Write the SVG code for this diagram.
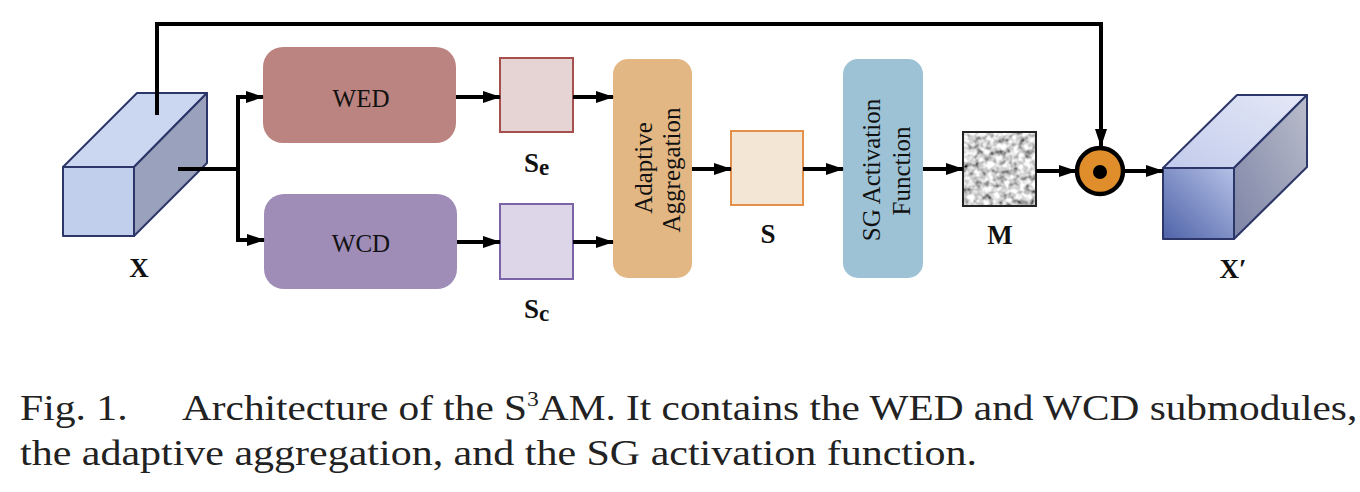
<svg xmlns="http://www.w3.org/2000/svg" width="1360" height="492" viewBox="0 0 1360 492">
<defs>
<marker id="ah" markerUnits="userSpaceOnUse" markerWidth="18" markerHeight="14" viewBox="0 0 18 14" refX="17" refY="7" orient="auto">
<path d="M0,1 L18,7 L0,13 Z" fill="#000"/>
</marker>
<linearGradient id="xpFront" x1="0" y1="1" x2="1" y2="0">
<stop offset="0" stop-color="#4f63a8"/>
<stop offset="1" stop-color="#b4c0e6"/>
</linearGradient>
<linearGradient id="xpTop" x1="0" y1="1" x2="1" y2="0">
<stop offset="0" stop-color="#c2cbec"/>
<stop offset="1" stop-color="#e4e8f6"/>
</linearGradient>
<linearGradient id="xpSide" x1="0" y1="1" x2="1" y2="0">
<stop offset="0" stop-color="#7d84a6"/>
<stop offset="1" stop-color="#b9bdcb"/>
</linearGradient>
<filter id="noise" x="0" y="0" width="100%" height="100%" filterUnits="objectBoundingBox">
<feTurbulence type="fractalNoise" baseFrequency="0.16" numOctaves="2" seed="11" result="t"/>
<feColorMatrix in="t" type="matrix" values="1.8 0 0 0 -0.25  1.8 0 0 0 -0.25  1.8 0 0 0 -0.25  0 0 0 0 1"/>
</filter>
</defs>
<style>
.conn{fill:none;stroke:#000;stroke-width:4}
.arr{fill:none;stroke:#000;stroke-width:4;marker-end:url(#ah)}
.lbl{font-family:"Liberation Serif","Times New Roman",serif;font-size:25px;fill:#111}
.blbl{font-family:"Liberation Serif","Times New Roman",serif;font-size:27px;font-weight:bold;fill:#111}
.cap{font-family:"Liberation Serif","Times New Roman",serif;font-size:35px;fill:#222}
.sup{font-size:20px}
.cube{stroke:#2d3668;stroke-width:2;stroke-linejoin:round}
</style>
<rect width="1360" height="492" fill="#fff"/>

<g id="node-X">
<polygon class="cube" points="63,167 137,93 207,93 134,167" fill="#cbd6f0"/>
<polygon class="cube" points="134,167 207,93 207,163 134,236" fill="#99a1bc"/>
<rect class="cube" x="63" y="167" width="71" height="69" fill="#c1cfec"/>
<text class="blbl" x="139" y="277" text-anchor="middle">X</text>
</g>

<g id="node-WED">
<rect x="263" y="47" width="193" height="96" rx="20" fill="#bb8480"/>
<text class="lbl" x="361" y="107" text-anchor="middle">WED</text>
</g>
<g id="node-WCD">
<rect x="264" y="194" width="193" height="95" rx="20" fill="#9f8db8"/>
<text class="lbl" x="361" y="252" text-anchor="middle">WCD</text>
</g>

<g id="node-Se">
<rect x="500" y="58" width="73" height="74" fill="#e6d3d3" stroke="#a5504c" stroke-width="2"/>
<text class="blbl" x="524" y="172">S<tspan style="font-size:23px" dy="3">e</tspan></text>
</g>
<g id="node-Sc">
<rect x="500" y="204" width="73" height="75" fill="#ddd6e8" stroke="#7b63a8" stroke-width="2"/>
<text class="blbl" x="524" y="318">S<tspan style="font-size:23px" dy="3">c</tspan></text>
</g>

<g id="node-AA">
<rect x="613" y="59" width="79" height="219" rx="15" fill="#e3b784"/>
<text class="lbl" transform="translate(652,168) rotate(-90)" text-anchor="middle">Adaptive</text>
<text class="lbl" transform="translate(680,170) rotate(-90)" text-anchor="middle">Aggregation</text>
</g>

<g id="node-S">
<rect x="731" y="131" width="72" height="74" fill="#f3e6d4" stroke="#e3904a" stroke-width="2"/>
<text class="blbl" x="768" y="243" text-anchor="middle">S</text>
</g>

<g id="node-SG">
<rect x="843" y="59" width="80" height="219" rx="15" fill="#9dc2d5"/>
<text class="lbl" transform="translate(880,170) rotate(-90)" text-anchor="middle">SG Activation</text>
<text class="lbl" transform="translate(910,171) rotate(-90)" text-anchor="middle">Function</text>
</g>

<g id="node-M">
<rect x="963" y="132" width="73" height="74" fill="#ccc" filter="url(#noise)"/>
<rect x="963" y="132" width="73" height="74" fill="none" stroke="#222" stroke-width="2"/>
<text class="blbl" x="1000" y="244" text-anchor="middle">M</text>
</g>

<g id="node-mul">
<circle cx="1100" cy="171" r="23" fill="#e08e2b" stroke="#000" stroke-width="4.5"/>
<circle cx="1100" cy="172" r="7" fill="#000"/>
</g>

<g id="node-Xp">
<polygon class="cube" points="1163,168 1237,95 1307,95 1234,168" fill="url(#xpTop)"/>
<polygon class="cube" points="1234,168 1307,95 1307,167 1234,239" fill="url(#xpSide)"/>
<rect class="cube" x="1163" y="168" width="71" height="71" fill="url(#xpFront)"/>
<text class="blbl" x="1233" y="278" text-anchor="middle">X′</text>
</g>

<g id="connectors">
<path class="arr" d="M157,115 V24 H1101 V146"/>
<path class="conn" d="M178,169 H238"/>
<path class="conn" d="M238,97 V242"/>
<path class="arr" d="M236,97 H263"/>
<path class="arr" d="M236,240 H264"/>
<path class="arr" d="M456,97 H500"/>
<path class="arr" d="M457,242 H500"/>
<path class="arr" d="M573,97 H613"/>
<path class="arr" d="M573,242 H613"/>
<path class="arr" d="M692,169 H731"/>
<path class="arr" d="M803,169 H843"/>
<path class="arr" d="M923,169 H963"/>
<path class="arr" d="M1036,171 H1076"/>
<path class="arr" d="M1125,171 H1163"/>
</g>

<g id="caption">
<text class="cap" transform="matrix(1.19 0 0 1 20 420)">Fig. 1.</text>
<text class="cap" transform="matrix(1.18 0 0 1 182 420)">Architecture of the S<tspan class="sup" dy="-14">3</tspan><tspan dy="14">AM. It contains the WED and WCD submodules,</tspan></text>
<text class="cap" transform="matrix(1.2 0 0 1 20 465)">the adaptive aggregation, and the SG activation function.</text>
</g>
</svg>
